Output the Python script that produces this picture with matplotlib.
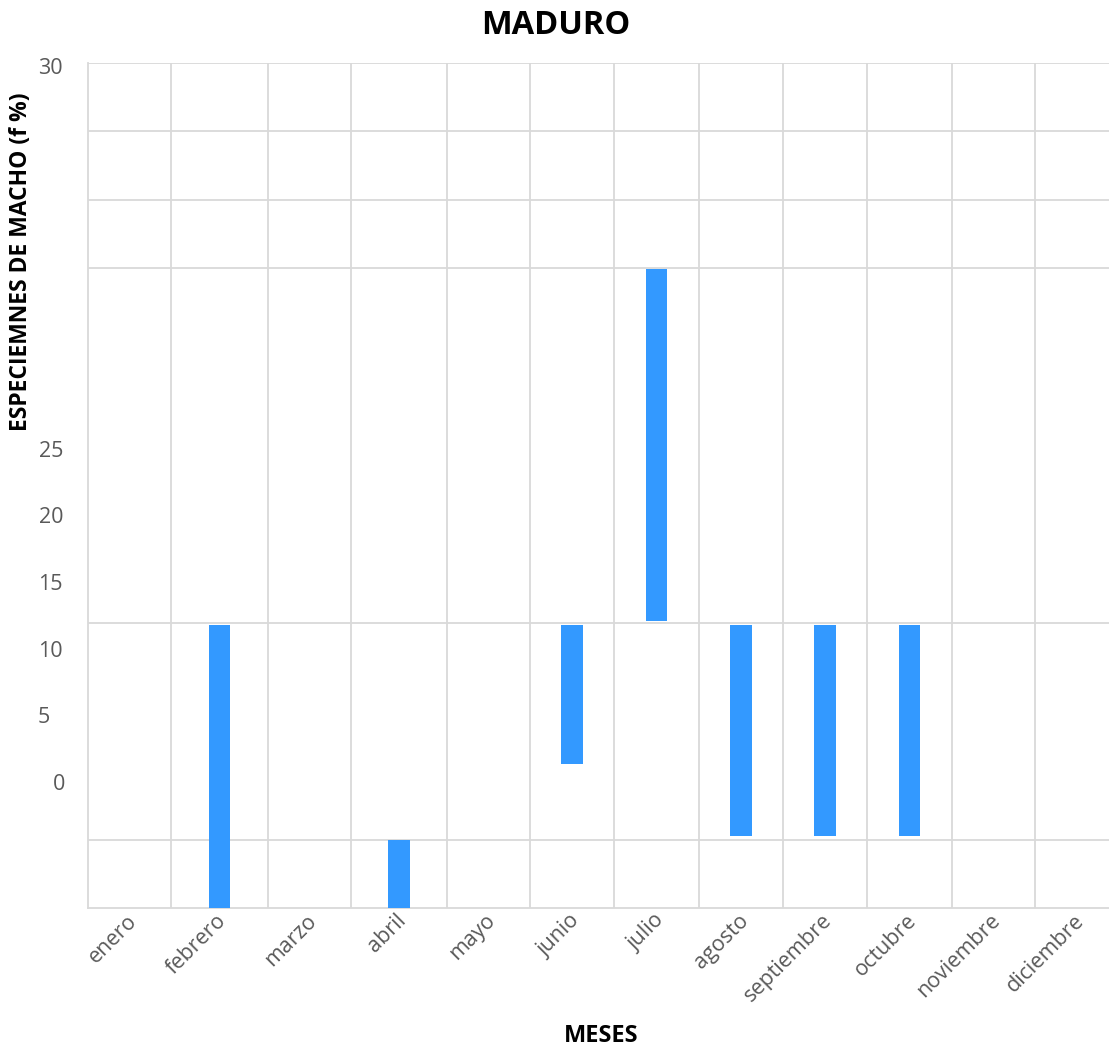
import numpy as np
import matplotlib
matplotlib.use("Agg")
import matplotlib.pyplot as plt
from matplotlib.transforms import ScaledTranslation

plt.rcParams['font.family'] = ['Open Sans', 'DejaVu Sans']

# months on the x axis
meses = ['enero', 'febrero', 'marzo', 'abril', 'mayo', 'junio', 'julio',
         'agosto', 'septiembre', 'octubre', 'noviembre', 'diciembre']

# floating bars: lower and upper end of each month (nan = no bar)
bar_low = [np.nan, -9.5, np.nan, -9.5, np.nan, 1.3, 12.1, -4.1, -4.1, -4.1, np.nan, np.nan]
bar_high = [np.nan, 11.8, np.nan, -4.4, np.nan, 11.8, 38.5, 11.8, 11.8, 11.8, np.nan, np.nan]

# y tick labels and where they sit
ytick_pos = [0, 5, 10, 15, 20, 25, 53.8]
ytick_lab = ['0', '5', '10', '15', '20', '25', '30']

# horizontal gridlines
grid_y = [54.0, 48.9, 43.7, 38.6, 11.9, -4.4]

# column widths of each month slot
col_w = [83, 97, 83, 96, 83, 84, 85, 84, 84, 85, 83, 84]

edges = np.concatenate([[0], np.cumsum(col_w)])
centers = (edges[:-1] + edges[1:]) / 2

W, H = 1109, 1049
fig = plt.figure(figsize=(W / 100, H / 100), dpi=100)
ax = fig.add_axes([88 / W, (H - 908) / H, (W - 88) / W, (908 - 63) / H])

grid_c = '#d9d9d9'
low = np.array(bar_low)
high = np.array(bar_high)
ax.bar(centers, high - low, bottom=low, width=21.5, color='#3399ff', zorder=3)

for y in grid_y:
    ax.axhline(y, color=grid_c, lw=1.3, zorder=1)
for x in edges[1:-1]:
    ax.axvline(x, color=grid_c, lw=1.3, zorder=1)

ax.set_xlim(0, W - 88)
ax.set_ylim(-9.5, 54.0)

for s in ['top', 'right']:
    ax.spines[s].set_visible(False)
for s in ['left', 'bottom']:
    ax.spines[s].set_color(grid_c)
    ax.spines[s].set_linewidth(1.3)

ax.set_xticks(centers)
ax.set_xticklabels(meses, rotation=45, ha='right', va='center',
                   rotation_mode='anchor', fontsize=15.5, color='#595959')
ax.tick_params(axis='x', length=0, pad=7)
# shift the month labels a touch to the right
for lab in ax.get_xticklabels():
    lab.set_transform(lab.get_transform() + ScaledTranslation(4 / 100, 0, fig.dpi_scale_trans))

ax.set_yticks(ytick_pos)
ax.set_yticklabels(ytick_lab, fontsize=15.5, color='#595959')
ax.tick_params(axis='y', length=0, pad=18)
# the "5" and "0" labels sit a little off the others
for lab in ax.get_yticklabels():
    if lab.get_text() == '5':
        lab.set_transform(lab.get_transform() + ScaledTranslation(-13 / 100, 0, fig.dpi_scale_trans))
    if lab.get_text() == '0':
        lab.set_transform(lab.get_transform() + ScaledTranslation(2 / 100, 0, fig.dpi_scale_trans))

fig.text(556 / W, 1 - 25 / H, 'MADURO', ha='center', va='center',
         fontsize=23.5, fontweight='bold')
fig.text(21 / W, 1 - 262 / H, 'ESPECIEMNES DE MACHO (f %)', rotation=90,
         ha='center', va='center', fontsize=16.5, fontweight='bold')
fig.text(601 / W, 1 - 1036 / H, 'MESES', ha='center', va='center',
         fontsize=17, fontweight='bold')

fig.savefig('out.png', dpi=100)
